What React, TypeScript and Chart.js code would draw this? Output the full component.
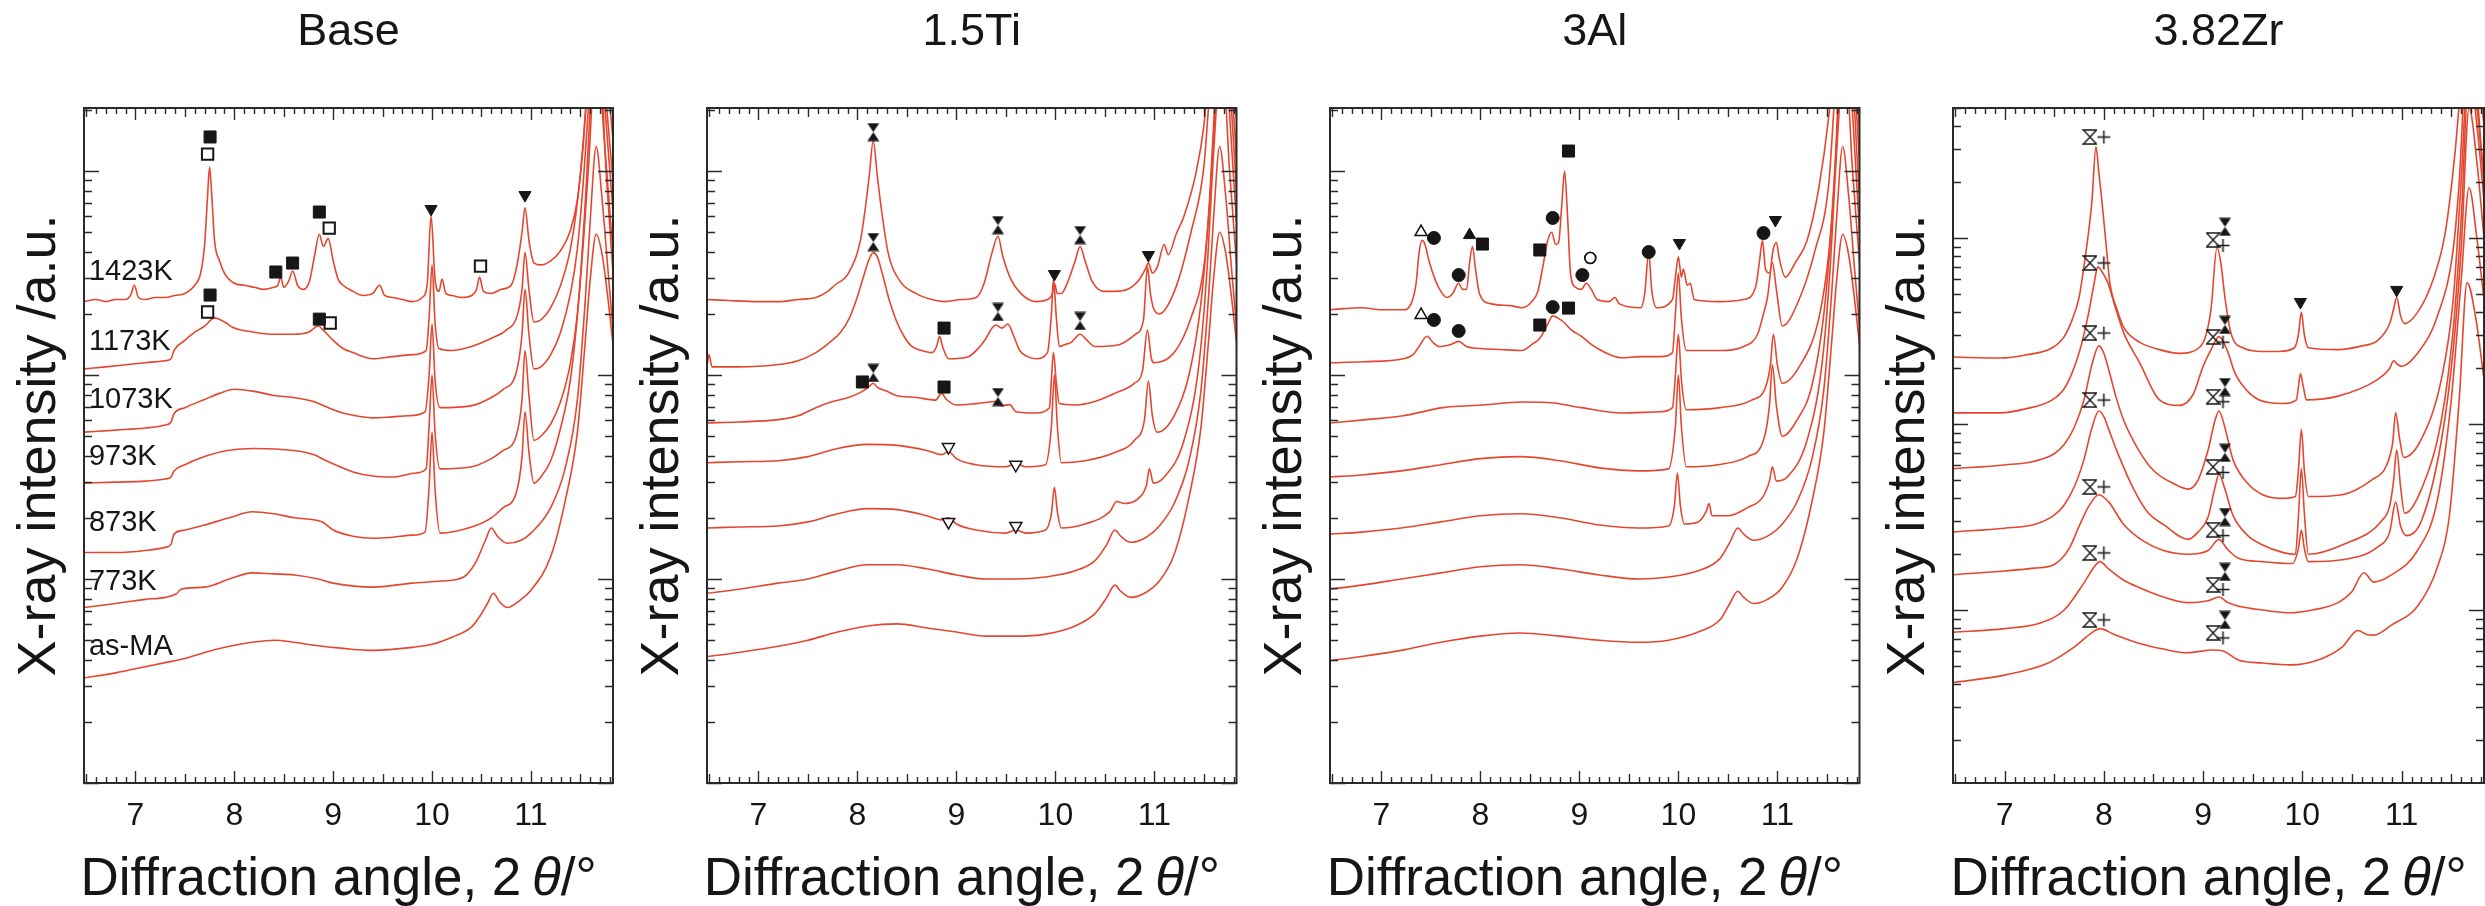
import React, { useEffect, useRef } from "react";
import { Chart, registerables } from "chart.js";

Chart.register(...registerables);

type P = [number, number]; // [2theta (deg), log10 intensity (a.u.)]

const FONT = "'Liberation Sans', Arial, Helvetica, sans-serif";
const CURVE_COLOR = "#e4472f";
const INK = "#161616";

// ---------------- axes ----------------
const X_MIN = 6.48;
const X_MAX = 11.83;
const X_TICKS = [7, 8, 9, 10, 11];
const LOG_RANGE_MAIN: P = [0, 3.309];
const LOG_RANGE_ZR: P = [0.07, 3.699];

const PANEL_TITLES = ["Base", "1.5Ti", "3Al", "3.82Zr"];
const SAMPLE_LABELS = ["1423K", "1173K", "1073K", "973K", "873K", "773K", "as-MA"];
const SAMPLE_LABEL_X = 6.53;
const SAMPLE_LABEL_LOG = [2.505, 2.162, 1.877, 1.598, 1.275, 0.985, 0.667];

// ---------------- Base ----------------
const base1423K: P[] = [[6.48,2.36],[6.6,2.37],[6.7,2.36],[6.8,2.37],[6.9,2.37],[6.95,2.39],[6.99,2.44],[7.03,2.38],[7.1,2.37],[7.2,2.38],[7.3,2.38],[7.4,2.39],[7.5,2.4],[7.6,2.44],[7.66,2.5],[7.7,2.64],[7.73,2.88],[7.75,3.02],[7.77,2.9],[7.8,2.66],[7.85,2.56],[7.9,2.5],[8.0,2.45],[8.1,2.44],[8.2,2.43],[8.3,2.42],[8.4,2.43],[8.44,2.44],[8.47,2.48],[8.5,2.43],[8.55,2.46],[8.59,2.51],[8.64,2.44],[8.7,2.42],[8.76,2.46],[8.81,2.58],[8.86,2.69],[8.9,2.63],[8.95,2.67],[9.0,2.56],[9.05,2.47],[9.1,2.44],[9.2,2.41],[9.3,2.39],[9.4,2.4],[9.47,2.44],[9.52,2.39],[9.6,2.38],[9.7,2.37],[9.8,2.36],[9.9,2.38],[9.95,2.44],[9.99,2.78],[10.03,2.47],[10.07,2.41],[10.1,2.47],[10.14,2.4],[10.2,2.39],[10.3,2.38],[10.4,2.39],[10.45,2.42],[10.48,2.48],[10.52,2.41],[10.6,2.4],[10.7,2.42],[10.8,2.44],[10.86,2.54],[10.91,2.7],[10.94,2.82],[10.98,2.66],[11.03,2.55],[11.1,2.54],[11.2,2.56],[11.3,2.61],[11.4,2.71],[11.47,2.86],[11.52,3.08],[11.57,3.4],[11.64,3.9],[11.7,4.0],[11.76,3.55],[11.83,3.15]];
const base1173K: P[] = [[6.48,2.03],[6.7,2.04],[6.9,2.05],[7.1,2.06],[7.3,2.07],[7.36,2.08],[7.39,2.12],[7.5,2.17],[7.6,2.21],[7.7,2.24],[7.8,2.28],[7.9,2.26],[8.0,2.23],[8.2,2.21],[8.4,2.2],[8.6,2.2],[8.75,2.21],[8.85,2.24],[8.9,2.22],[9.0,2.17],[9.1,2.13],[9.2,2.11],[9.4,2.08],[9.6,2.09],[9.8,2.1],[9.94,2.12],[9.97,2.28],[10.0,2.54],[10.03,2.26],[10.07,2.13],[10.2,2.12],[10.4,2.14],[10.6,2.18],[10.75,2.22],[10.86,2.29],[10.91,2.42],[10.94,2.6],[10.98,2.42],[11.03,2.26],[11.1,2.27],[11.2,2.33],[11.3,2.44],[11.4,2.62],[11.47,2.85],[11.53,3.15],[11.58,3.5],[11.66,3.9],[11.75,3.4],[11.83,2.95]];
const base1073K: P[] = [[6.48,1.72],[6.8,1.73],[7.1,1.74],[7.3,1.755],[7.36,1.77],[7.39,1.81],[7.5,1.84],[7.7,1.88],[7.85,1.91],[8.0,1.93],[8.2,1.92],[8.4,1.9],[8.6,1.89],[8.8,1.87],[9.0,1.83],[9.13,1.81],[9.4,1.79],[9.6,1.795],[9.76,1.8],[9.93,1.82],[9.97,2.0],[10.0,2.25],[10.03,1.98],[10.08,1.84],[10.4,1.85],[10.6,1.89],[10.72,1.93],[10.85,2.01],[10.91,2.2],[10.94,2.42],[10.98,2.2],[11.03,2.03],[11.1,2.04],[11.2,2.1],[11.3,2.21],[11.4,2.4],[11.47,2.62],[11.53,2.95],[11.58,3.3],[11.66,3.8],[11.75,3.3],[11.83,2.8]];
const base973K: P[] = [[6.48,1.47],[6.8,1.475],[7.1,1.48],[7.3,1.49],[7.36,1.5],[7.39,1.53],[7.5,1.56],[7.7,1.6],[7.93,1.63],[8.2,1.64],[8.6,1.63],[8.8,1.61],[8.93,1.58],[9.2,1.525],[9.4,1.505],[9.6,1.5],[9.84,1.52],[9.94,1.54],[9.97,1.75],[10.0,2.0],[10.03,1.72],[10.08,1.54],[10.4,1.55],[10.6,1.59],[10.72,1.63],[10.85,1.7],[10.91,1.88],[10.94,2.12],[10.98,1.9],[11.03,1.68],[11.1,1.7],[11.2,1.76],[11.3,1.87],[11.4,2.06],[11.47,2.3],[11.53,2.65],[11.58,3.0],[11.66,3.6],[11.75,3.1],[11.83,2.6]];
const base873K: P[] = [[6.48,1.13],[6.8,1.13],[7.1,1.14],[7.3,1.155],[7.36,1.17],[7.39,1.22],[7.5,1.24],[7.7,1.265],[7.95,1.3],[8.18,1.33],[8.4,1.32],[8.61,1.3],[8.89,1.28],[9.0,1.24],[9.2,1.21],[9.4,1.2],[9.6,1.205],[9.8,1.215],[9.93,1.23],[9.97,1.45],[10.0,1.72],[10.03,1.44],[10.08,1.225],[10.4,1.255],[10.6,1.3],[10.72,1.35],[10.85,1.42],[10.91,1.6],[10.94,1.82],[10.98,1.62],[11.03,1.47],[11.1,1.5],[11.2,1.58],[11.3,1.74],[11.4,1.98],[11.48,2.35],[11.55,2.85],[11.6,3.3],[11.68,3.7],[11.76,3.0],[11.83,2.5]];
const base773K: P[] = [[6.48,0.86],[6.8,0.88],[7.1,0.9],[7.3,0.91],[7.42,0.93],[7.46,0.95],[7.7,0.96],[7.95,1.0],[8.18,1.03],[8.4,1.025],[8.61,1.02],[8.85,1.0],[9.0,0.98],[9.4,0.96],[9.8,0.98],[10.1,0.99],[10.32,1.01],[10.44,1.08],[10.54,1.19],[10.6,1.25],[10.66,1.21],[10.76,1.175],[10.9,1.19],[11.0,1.225],[11.2,1.35],[11.35,1.55],[11.47,1.88],[11.55,2.37],[11.6,2.76],[11.66,3.12],[11.72,2.86],[11.78,2.51],[11.83,2.22]];
const baseAsMA: P[] = [[6.48,0.515],[6.8,0.54],[7.1,0.57],[7.3,0.59],[7.5,0.61],[7.7,0.64],[7.95,0.67],[8.18,0.69],[8.41,0.7],[8.6,0.69],[8.81,0.675],[9.1,0.66],[9.4,0.65],[9.8,0.665],[10.0,0.68],[10.2,0.715],[10.4,0.765],[10.5,0.83],[10.56,0.88],[10.62,0.93],[10.68,0.89],[10.76,0.86],[10.9,0.9],[11.0,0.945],[11.2,1.11],[11.35,1.39],[11.47,1.72],[11.55,2.17],[11.6,2.47],[11.66,2.69],[11.72,2.59],[11.78,2.37],[11.83,2.15]];

const baseFilledSquare: P[] = [[7.755,3.167],[8.42,2.505],[8.59,2.549],[8.86,2.799],[7.755,2.392],[8.86,2.274]];
const baseOpenSquare: P[] = [[7.73,3.083],[8.96,2.72],[10.49,2.534],[7.73,2.309],[8.97,2.255]];
const baseDownTri: P[] = [[9.99,2.814],[10.94,2.882]];

// ---------------- 1.5Ti ----------------
const ti1423K: P[] = [[6.48,2.37],[6.7,2.365],[7.0,2.36],[7.2,2.36],[7.4,2.37],[7.58,2.38],[7.7,2.41],[7.77,2.44],[7.91,2.5],[8.03,2.66],[8.08,2.82],[8.12,2.98],[8.16,3.15],[8.2,2.98],[8.24,2.82],[8.31,2.6],[8.43,2.46],[8.59,2.4],[8.75,2.37],[8.88,2.36],[9.05,2.37],[9.2,2.38],[9.28,2.45],[9.36,2.6],[9.42,2.68],[9.47,2.58],[9.55,2.47],[9.65,2.4],[9.8,2.36],[9.92,2.37],[9.97,2.4],[9.99,2.45],[10.02,2.4],[10.06,2.4],[10.12,2.45],[10.2,2.56],[10.25,2.63],[10.3,2.56],[10.37,2.46],[10.49,2.41],[10.6,2.41],[10.73,2.42],[10.85,2.47],[10.91,2.52],[10.94,2.55],[10.98,2.5],[11.03,2.53],[11.1,2.64],[11.14,2.59],[11.22,2.69],[11.3,2.78],[11.42,2.99],[11.5,3.22],[11.56,3.55],[11.64,3.95],[11.72,4.0],[11.78,3.6],[11.83,3.25]];
const ti1173K: P[] = [[6.48,2.04],[6.5,2.1],[6.53,2.04],[6.78,2.04],[7.18,2.05],[7.4,2.07],[7.58,2.11],[7.72,2.16],[7.83,2.21],[7.92,2.28],[7.99,2.37],[8.06,2.48],[8.12,2.57],[8.16,2.6],[8.2,2.58],[8.25,2.5],[8.32,2.37],[8.39,2.27],[8.47,2.19],[8.55,2.14],[8.65,2.12],[8.75,2.11],[8.8,2.14],[8.83,2.19],[8.86,2.14],[8.92,2.08],[9.12,2.09],[9.22,2.13],[9.3,2.18],[9.36,2.23],[9.4,2.245],[9.46,2.23],[9.52,2.25],[9.58,2.19],[9.64,2.12],[9.72,2.09],[9.8,2.08],[9.92,2.11],[9.96,2.3],[9.98,2.47],[10.01,2.28],[10.04,2.14],[10.1,2.15],[10.16,2.16],[10.25,2.2],[10.32,2.17],[10.4,2.14],[10.65,2.15],[10.81,2.2],[10.89,2.27],[10.93,2.53],[10.96,2.4],[10.99,2.33],[11.05,2.3],[11.21,2.42],[11.37,2.7],[11.5,3.02],[11.56,3.4],[11.64,3.9],[11.72,3.9],[11.78,3.45],[11.83,3.05]];
const ti1073K: P[] = [[6.48,1.765],[6.8,1.77],[7.18,1.78],[7.4,1.8],[7.58,1.84],[7.75,1.87],[7.91,1.89],[8.05,1.92],[8.12,1.945],[8.16,1.96],[8.2,1.94],[8.3,1.92],[8.39,1.9],[8.6,1.89],[8.79,1.877],[8.85,1.91],[8.9,1.88],[9.0,1.853],[9.2,1.86],[9.4,1.87],[9.46,1.85],[9.54,1.855],[9.6,1.82],[9.8,1.814],[9.94,1.84],[9.96,1.98],[9.98,2.11],[10.01,1.96],[10.04,1.86],[10.2,1.853],[10.4,1.87],[10.6,1.91],[10.8,1.96],[10.88,2.02],[10.93,2.22],[10.97,2.08],[11.0,2.06],[11.2,2.11],[11.37,2.28],[11.5,2.53],[11.56,2.85],[11.64,3.5],[11.72,3.8],[11.78,3.3],[11.83,2.9]];
const ti973K: P[] = [[6.48,1.57],[6.8,1.575],[7.2,1.58],[7.5,1.6],[7.8,1.64],[8.1,1.66],[8.4,1.655],[8.7,1.63],[8.85,1.61],[8.92,1.625],[9.0,1.59],[9.2,1.56],[9.5,1.55],[9.6,1.565],[9.7,1.55],[9.9,1.56],[9.96,1.75],[9.99,2.0],[10.02,1.75],[10.06,1.57],[10.3,1.58],[10.6,1.62],[10.8,1.68],[10.9,1.78],[10.94,1.97],[10.98,1.8],[11.03,1.72],[11.2,1.8],[11.35,2.0],[11.47,2.35],[11.55,2.8],[11.62,3.4],[11.7,3.8],[11.77,3.2],[11.83,2.75]];
const ti873K: P[] = [[6.48,1.25],[6.8,1.255],[7.2,1.26],[7.5,1.28],[7.8,1.32],[8.1,1.345],[8.4,1.34],[8.7,1.31],[8.85,1.29],[8.92,1.3],[9.0,1.27],[9.2,1.24],[9.5,1.225],[9.6,1.24],[9.7,1.225],[9.9,1.24],[9.96,1.32],[9.99,1.45],[10.02,1.33],[10.06,1.25],[10.3,1.27],[10.55,1.33],[10.62,1.38],[10.7,1.37],[10.85,1.4],[10.92,1.46],[10.95,1.54],[10.99,1.47],[11.1,1.5],[11.3,1.68],[11.45,2.05],[11.53,2.5],[11.6,3.1],[11.68,3.6],[11.76,3.0],[11.83,2.55]];
const ti773K: P[] = [[6.48,0.93],[6.8,0.95],[7.2,0.98],[7.5,1.0],[7.8,1.04],[8.1,1.07],[8.4,1.07],[8.7,1.05],[9.0,1.02],[9.3,1.0],[9.6,1.0],[9.9,1.01],[10.2,1.04],[10.4,1.09],[10.52,1.17],[10.6,1.24],[10.66,1.21],[10.76,1.18],[10.9,1.2],[11.05,1.26],[11.2,1.37],[11.35,1.58],[11.47,1.92],[11.55,2.4],[11.6,2.78],[11.66,3.12],[11.72,2.88],[11.78,2.52],[11.83,2.24]];
const tiAsMA: P[] = [[6.48,0.62],[6.8,0.64],[7.2,0.67],[7.5,0.7],[7.8,0.74],[8.1,0.77],[8.4,0.78],[8.7,0.76],[9.0,0.74],[9.3,0.72],[9.6,0.72],[9.9,0.73],[10.2,0.77],[10.4,0.83],[10.52,0.91],[10.6,0.97],[10.66,0.94],[10.76,0.91],[10.9,0.93],[11.05,0.99],[11.2,1.12],[11.35,1.4],[11.47,1.74],[11.55,2.18],[11.6,2.48],[11.66,2.7],[11.72,2.6],[11.78,2.38],[11.83,2.16]];

const tiHourglass: P[] = [[8.16,3.191],[8.16,2.652],[9.42,2.735],[10.25,2.686],[9.42,2.309],[10.25,2.265],[8.16,2.01],[9.42,1.892]];
const tiFilledSquare: P[] = [[8.875,2.23],[8.05,1.966],[8.875,1.941]];
const tiDownTri: P[] = [[9.99,2.495],[10.94,2.588]];
const tiOpenDownTri: P[] = [[8.92,1.647],[9.6,1.56],[8.92,1.28],[9.6,1.26]];

// ---------------- 3Al ----------------
const al1423K: P[] = [[6.48,2.32],[6.8,2.33],[7.0,2.32],[7.22,2.32],[7.3,2.35],[7.35,2.45],[7.38,2.6],[7.41,2.66],[7.44,2.64],[7.48,2.56],[7.54,2.47],[7.6,2.41],[7.66,2.38],[7.72,2.4],[7.78,2.45],[7.82,2.42],[7.86,2.42],[7.89,2.55],[7.92,2.63],[7.95,2.52],[7.99,2.4],[8.1,2.35],[8.3,2.34],[8.42,2.33],[8.52,2.36],[8.58,2.41],[8.63,2.53],[8.68,2.66],[8.72,2.7],[8.76,2.64],[8.79,2.65],[8.82,2.82],[8.85,3.0],[8.88,2.78],[8.91,2.5],[8.96,2.43],[9.02,2.42],[9.07,2.45],[9.12,2.42],[9.18,2.37],[9.3,2.36],[9.36,2.38],[9.4,2.35],[9.62,2.33],[9.66,2.4],[9.7,2.6],[9.73,2.42],[9.78,2.33],[9.94,2.37],[9.97,2.48],[10.0,2.58],[10.03,2.48],[10.05,2.52],[10.09,2.44],[10.12,2.45],[10.16,2.37],[10.42,2.36],[10.66,2.37],[10.78,2.43],[10.82,2.56],[10.85,2.66],[10.88,2.52],[10.92,2.5],[10.96,2.62],[10.99,2.65],[11.02,2.57],[11.08,2.48],[11.18,2.55],[11.3,2.66],[11.42,2.92],[11.52,3.27],[11.58,3.6],[11.65,4.0],[11.72,4.0],[11.78,3.6],[11.83,3.2]];
const al1173K: P[] = [[6.48,2.06],[6.82,2.065],[7.22,2.08],[7.32,2.1],[7.38,2.14],[7.46,2.19],[7.52,2.16],[7.58,2.14],[7.7,2.15],[7.78,2.165],[7.86,2.14],[8.0,2.13],[8.2,2.125],[8.42,2.12],[8.52,2.15],[8.6,2.18],[8.68,2.25],[8.73,2.29],[8.78,2.28],[8.84,2.26],[8.92,2.22],[9.02,2.19],[9.12,2.15],[9.22,2.12],[9.42,2.085],[9.62,2.09],[9.82,2.09],[9.94,2.11],[9.97,2.3],[10.0,2.5],[10.03,2.28],[10.08,2.12],[10.42,2.12],[10.66,2.14],[10.8,2.2],[10.86,2.3],[10.9,2.38],[10.95,2.55],[10.99,2.42],[11.05,2.24],[11.22,2.37],[11.38,2.61],[11.52,2.94],[11.57,3.3],[11.64,3.9],[11.72,3.95],[11.78,3.45],[11.83,3.05]];
const al1073K: P[] = [[6.48,1.765],[6.82,1.78],[7.22,1.8],[7.62,1.84],[8.02,1.853],[8.42,1.868],[8.74,1.863],[9.02,1.84],[9.42,1.814],[9.82,1.82],[9.94,1.84],[9.97,2.0],[10.0,2.2],[10.03,1.98],[10.08,1.83],[10.42,1.84],[10.74,1.877],[10.88,1.94],[10.93,2.05],[10.96,2.2],[11.0,2.05],[11.05,1.96],[11.22,2.04],[11.42,2.28],[11.52,2.6],[11.58,3.0],[11.65,3.7],[11.72,3.8],[11.78,3.3],[11.83,2.85]];
const al973K: P[] = [[6.48,1.5],[6.8,1.51],[7.2,1.53],[7.6,1.56],[8.0,1.59],[8.4,1.6],[8.8,1.58],[9.2,1.545],[9.6,1.53],[9.9,1.54],[9.97,1.75],[10.0,2.0],[10.03,1.75],[10.08,1.55],[10.4,1.56],[10.7,1.6],[10.86,1.68],[10.92,1.85],[10.95,2.05],[10.99,1.85],[11.05,1.7],[11.2,1.78],[11.35,1.95],[11.47,2.3],[11.55,2.75],[11.62,3.3],[11.7,3.7],[11.77,3.2],[11.83,2.7]];
const al873K: P[] = [[6.48,1.22],[6.8,1.23],[7.2,1.25],[7.6,1.28],[8.0,1.31],[8.4,1.32],[8.8,1.3],[9.2,1.265],[9.6,1.25],[9.9,1.26],[9.96,1.36],[9.99,1.52],[10.02,1.36],[10.06,1.27],[10.2,1.28],[10.28,1.33],[10.31,1.37],[10.34,1.31],[10.5,1.31],[10.7,1.35],[10.85,1.4],[10.92,1.48],[10.95,1.55],[10.99,1.48],[11.1,1.5],[11.3,1.68],[11.45,2.05],[11.53,2.5],[11.6,3.1],[11.68,3.6],[11.76,3.0],[11.83,2.55]];
const al773K: P[] = [[6.48,0.95],[6.8,0.97],[7.2,1.0],[7.6,1.03],[8.0,1.06],[8.4,1.07],[8.8,1.05],[9.2,1.02],[9.6,1.0],[9.9,1.01],[10.2,1.04],[10.42,1.1],[10.52,1.18],[10.6,1.25],[10.66,1.22],[10.76,1.19],[10.9,1.21],[11.05,1.27],[11.2,1.38],[11.35,1.59],[11.47,1.93],[11.55,2.41],[11.6,2.78],[11.66,3.12],[11.72,2.88],[11.78,2.52],[11.83,2.24]];
const alAsMA: P[] = [[6.48,0.6],[6.8,0.62],[7.2,0.65],[7.6,0.69],[8.0,0.72],[8.4,0.735],[8.8,0.72],[9.2,0.7],[9.6,0.69],[9.9,0.7],[10.2,0.74],[10.42,0.8],[10.52,0.88],[10.6,0.94],[10.66,0.91],[10.76,0.88],[10.9,0.9],[11.05,0.96],[11.2,1.1],[11.35,1.38],[11.47,1.72],[11.55,2.17],[11.6,2.47],[11.66,2.69],[11.72,2.59],[11.78,2.37],[11.83,2.15]];

const alOpenUpTri: P[] = [[7.4,2.701],[7.4,2.294]];
const alFilledCircle: P[] = [[7.53,2.672],[7.78,2.49],[8.73,2.77],[9.03,2.49],[9.7,2.603],[10.86,2.696],[7.53,2.27],[7.78,2.216],[8.73,2.333]];
const alFilledUpTri: P[] = [[7.89,2.686]];
const alFilledSquare: P[] = [[8.02,2.642],[8.6,2.613],[8.89,3.098],[8.6,2.245],[8.89,2.328]];
const alOpenCircle: P[] = [[9.11,2.574]];
const alDownTri: P[] = [[10.01,2.647],[10.98,2.76]];

// ---------------- 3.82Zr ----------------
const zr1423K: P[] = [[6.48,2.36],[6.96,2.355],[7.2,2.37],[7.48,2.41],[7.6,2.47],[7.68,2.56],[7.75,2.68],[7.8,2.85],[7.85,3.05],[7.88,3.2],[7.92,3.49],[7.95,3.35],[7.98,3.2],[8.02,2.98],[8.06,2.76],[8.13,2.62],[8.2,2.52],[8.36,2.44],[8.56,2.4],[8.76,2.38],[8.96,2.41],[9.03,2.48],[9.08,2.62],[9.14,2.95],[9.18,2.86],[9.22,2.68],[9.28,2.49],[9.4,2.41],[9.6,2.39],[9.76,2.39],[9.92,2.41],[9.96,2.48],[9.99,2.6],[10.02,2.48],[10.06,2.41],[10.36,2.4],[10.6,2.42],[10.76,2.45],[10.88,2.54],[10.92,2.62],[10.95,2.68],[10.99,2.58],[11.03,2.54],[11.16,2.6],[11.32,2.78],[11.44,3.03],[11.54,3.47],[11.6,3.85],[11.68,4.3],[11.76,4.0],[11.83,3.6]];
const zr1173K: P[] = [[6.48,2.06],[6.96,2.06],[7.2,2.08],[7.48,2.13],[7.6,2.19],[7.68,2.275],[7.76,2.4],[7.84,2.58],[7.9,2.75],[7.94,2.845],[7.98,2.82],[8.04,2.76],[8.12,2.62],[8.2,2.49],[8.36,2.33],[8.56,2.13],[8.76,2.1],[8.9,2.16],[9.0,2.31],[9.08,2.4],[9.16,2.47],[9.24,2.4],[9.32,2.275],[9.44,2.18],[9.56,2.13],[9.8,2.11],[9.94,2.13],[9.96,2.2],[9.98,2.27],[10.01,2.2],[10.04,2.13],[10.36,2.15],[10.76,2.24],[10.88,2.3],[10.92,2.34],[10.96,2.32],[11.0,2.31],[11.16,2.38],[11.36,2.58],[11.52,2.94],[11.58,3.3],[11.66,4.0],[11.74,3.9],[11.8,3.5],[11.83,3.3]];
const zr1073K: P[] = [[6.48,1.76],[7.0,1.78],[7.3,1.8],[7.5,1.84],[7.6,1.89],[7.7,1.98],[7.8,2.13],[7.88,2.32],[7.95,2.42],[8.0,2.38],[8.05,2.29],[8.12,2.15],[8.2,2.02],[8.35,1.86],[8.5,1.75],[8.7,1.68],[8.85,1.65],[8.95,1.7],[9.05,1.86],[9.12,2.02],[9.16,2.07],[9.22,1.98],[9.3,1.81],[9.45,1.68],[9.6,1.62],[9.8,1.6],[9.93,1.61],[9.96,1.75],[9.99,1.97],[10.02,1.75],[10.06,1.61],[10.4,1.62],[10.7,1.7],[10.85,1.78],[10.91,1.9],[10.94,2.06],[10.98,1.92],[11.02,1.82],[11.2,1.92],[11.4,2.24],[11.52,2.67],[11.6,3.31],[11.68,4.0],[11.76,3.7],[11.83,3.3]];
const zr973K: P[] = [[6.48,1.42],[7.0,1.44],[7.3,1.46],[7.5,1.51],[7.6,1.565],[7.7,1.66],[7.8,1.81],[7.88,1.98],[7.95,2.07],[8.0,2.04],[8.05,1.97],[8.15,1.83],[8.3,1.65],[8.45,1.52],[8.6,1.46],[8.85,1.38],[8.95,1.42],[9.05,1.5],[9.12,1.66],[9.16,1.73],[9.22,1.65],[9.3,1.51],[9.45,1.4],[9.6,1.35],[9.8,1.31],[9.93,1.3],[9.96,1.5],[9.99,1.76],[10.02,1.52],[10.06,1.3],[10.4,1.35],[10.8,1.48],[10.88,1.56],[10.92,1.7],[10.95,1.86],[10.99,1.66],[11.03,1.52],[11.2,1.65],[11.4,2.02],[11.52,2.51],[11.6,3.1],[11.68,3.9],[11.76,3.6],[11.83,3.2]];
const zr873K: P[] = [[6.48,1.19],[7.0,1.21],[7.3,1.225],[7.5,1.245],[7.65,1.33],[7.75,1.45],[7.85,1.56],[7.95,1.62],[8.05,1.58],[8.2,1.46],[8.4,1.37],[8.6,1.32],[8.85,1.3],[9.05,1.32],[9.16,1.38],[9.24,1.33],[9.35,1.28],[9.6,1.26],[9.9,1.25],[9.96,1.33],[9.99,1.43],[10.02,1.33],[10.06,1.26],[10.4,1.27],[10.76,1.34],[10.88,1.42],[10.94,1.58],[10.99,1.45],[11.05,1.4],[11.2,1.48],[11.4,1.91],[11.52,2.4],[11.6,2.94],[11.68,3.7],[11.76,3.4],[11.83,3.0]];
const zr773K: P[] = [[6.48,0.88],[7.0,0.9],[7.36,0.93],[7.6,1.0],[7.8,1.146],[7.9,1.23],[7.96,1.26],[8.05,1.22],[8.2,1.16],[8.36,1.12],[8.6,1.07],[8.84,1.04],[9.05,1.05],[9.16,1.07],[9.25,1.04],[9.36,1.02],[9.6,1.0],[9.88,0.985],[10.1,1.0],[10.36,1.04],[10.5,1.1],[10.62,1.2],[10.72,1.15],[10.9,1.19],[11.16,1.32],[11.36,1.59],[11.5,2.13],[11.6,2.77],[11.68,3.27],[11.76,2.99],[11.83,2.67]];
const zrAsMA: P[] = [[6.48,0.61],[7.0,0.65],[7.44,0.715],[7.7,0.8],[7.86,0.87],[7.96,0.9],[8.1,0.87],[8.36,0.82],[8.6,0.79],[8.84,0.77],[9.1,0.785],[9.2,0.78],[9.36,0.73],[9.6,0.715],[9.88,0.705],[10.2,0.74],[10.4,0.8],[10.56,0.89],[10.64,0.87],[10.72,0.865],[10.9,0.92],[11.16,1.02],[11.36,1.23],[11.48,1.5],[11.58,2.13],[11.66,2.76],[11.75,2.56],[11.83,2.24]];

const zrOpenHourglass: P[] = [[7.86,3.543],[7.86,2.866],[7.86,2.489],[7.86,2.129],[7.86,1.662],[7.86,1.307],[7.86,0.947],[9.1,2.99],[9.1,2.468],[9.1,2.146],[9.1,1.769],[9.1,1.431],[9.1,1.135],[9.1,0.877]];
const zrPlus: P[] = [[8.0,3.543],[8.0,2.866],[8.0,2.489],[8.0,2.129],[8.0,1.662],[8.0,1.307],[8.0,0.947],[9.2,2.96],[9.2,2.44],[9.2,2.12],[9.2,1.74],[9.2,1.4],[9.2,1.11],[9.2,0.85]];
const zrFilledHourglass: P[] = [[9.22,3.06],[9.22,2.533],[9.22,2.199],[9.22,1.845],[9.22,1.5],[9.22,1.205],[9.22,0.947]];
const zrDownTri: P[] = [[9.98,2.656],[10.95,2.721]];

type MarkerKind = "square" | "squareOpen" | "triDown" | "triDownOpen" | "triUp" | "triUpOpen" | "circle" | "circleOpen" | "hgFill" | "hgOpen" | "plus";

interface PanelDef {
  title: string;
  logRange: P;
  curves: P[][];
  markers: { pts: P[]; kind: MarkerKind }[];
  sampleLabels: boolean;
}

const PANELS: PanelDef[] = [
  {
    title: PANEL_TITLES[0], logRange: LOG_RANGE_MAIN, sampleLabels: true,
    curves: [base1423K, base1173K, base1073K, base973K, base873K, base773K, baseAsMA],
    markers: [
      { pts: baseFilledSquare, kind: "square" },
      { pts: baseOpenSquare, kind: "squareOpen" },
      { pts: baseDownTri, kind: "triDown" },
    ],
  },
  {
    title: PANEL_TITLES[1], logRange: LOG_RANGE_MAIN, sampleLabels: false,
    curves: [ti1423K, ti1173K, ti1073K, ti973K, ti873K, ti773K, tiAsMA],
    markers: [
      { pts: tiHourglass, kind: "hgFill" },
      { pts: tiFilledSquare, kind: "square" },
      { pts: tiDownTri, kind: "triDown" },
      { pts: tiOpenDownTri, kind: "triDownOpen" },
    ],
  },
  {
    title: PANEL_TITLES[2], logRange: LOG_RANGE_MAIN, sampleLabels: false,
    curves: [al1423K, al1173K, al1073K, al973K, al873K, al773K, alAsMA],
    markers: [
      { pts: alOpenUpTri, kind: "triUpOpen" },
      { pts: alFilledCircle, kind: "circle" },
      { pts: alFilledUpTri, kind: "triUp" },
      { pts: alFilledSquare, kind: "square" },
      { pts: alOpenCircle, kind: "circleOpen" },
      { pts: alDownTri, kind: "triDown" },
    ],
  },
  {
    title: PANEL_TITLES[3], logRange: LOG_RANGE_ZR, sampleLabels: false,
    curves: [zr1423K, zr1173K, zr1073K, zr973K, zr873K, zr773K, zrAsMA],
    markers: [
      { pts: zrOpenHourglass, kind: "hgOpen" },
      { pts: zrPlus, kind: "plus" },
      { pts: zrFilledHourglass, kind: "hgFill" },
      { pts: zrDownTri, kind: "triDown" },
    ],
  },
];

// ---------------- layout constants ----------------
const CANVAS_W = 623;
const CANVAS_H = 906;
const PLOT_LEFT = 84;
const PLOT_BOTTOM_SPACE = 123;

function glyph(kind: "hgFill" | "hgOpen" | "plus"): HTMLCanvasElement {
  const c = document.createElement("canvas");
  const g = c.getContext("2d") as CanvasRenderingContext2D;
  if (kind === "hgFill") {
    c.width = 13; c.height = 19;
    g.fillStyle = INK;
    g.beginPath(); g.moveTo(0.5, 0.5); g.lineTo(12.5, 0.5); g.lineTo(6.5, 9.5); g.closePath(); g.fill();
    g.beginPath(); g.moveTo(6.5, 9.5); g.lineTo(12.5, 18.5); g.lineTo(0.5, 18.5); g.closePath(); g.fill();
  } else if (kind === "hgOpen") {
    c.width = 15; c.height = 16;
    g.strokeStyle = INK; g.lineWidth = 1.4;
    g.beginPath(); g.moveTo(1, 1); g.lineTo(14, 1); g.lineTo(7.5, 8); g.closePath();
    g.moveTo(7.5, 8); g.lineTo(14, 15); g.lineTo(1, 15); g.closePath(); g.stroke();
  } else {
    c.width = 15; c.height = 15;
    g.strokeStyle = INK; g.lineWidth = 1.5;
    g.beginPath(); g.moveTo(7.5, 1); g.lineTo(7.5, 14); g.moveTo(1, 7.5); g.lineTo(14, 7.5); g.stroke();
  }
  return c;
}

function markerDataset(pts: P[], kind: MarkerKind) {
  const data = pts.map(([x, l]) => ({ x, y: Math.pow(10, l) }));
  const base: any = {
    data, showLine: false, order: 0,
    pointBackgroundColor: INK, pointBorderColor: INK, pointBorderWidth: 1,
    pointRadius: 6, pointHoverRadius: 6, pointRotation: 0,
  };
  switch (kind) {
    case "square": return { ...base, pointStyle: "rect", pointRadius: 8.5 };
    case "squareOpen": return { ...base, pointStyle: "rect", pointRadius: 8, pointBackgroundColor: "#fff", pointBorderWidth: 2 };
    case "triDown": return { ...base, pointStyle: "triangle", pointRadius: 7, pointRotation: 180 };
    case "triDownOpen": return { ...base, pointStyle: "triangle", pointRadius: 7, pointRotation: 180, pointBackgroundColor: "#fff", pointBorderWidth: 1.5 };
    case "triUp": return { ...base, pointStyle: "triangle", pointRadius: 7 };
    case "triUpOpen": return { ...base, pointStyle: "triangle", pointRadius: 7, pointBackgroundColor: "#fff", pointBorderWidth: 1.5 };
    case "circle": return { ...base, pointStyle: "circle", pointRadius: 6.5 };
    case "circleOpen": return { ...base, pointStyle: "circle", pointRadius: 5.5, pointBackgroundColor: "#fff", pointBorderWidth: 1.8 };
    default: return { ...base, pointStyle: glyph(kind) };
  }
}

const decoPlugin = {
  id: "deco",
  afterDatasetsDraw(chart: any, _args: any, opts: any) {
    const { ctx, chartArea: a, scales } = chart;
    const xs = scales.x;
    const ys = scales.y;
    ctx.save();
    // sample labels
    if (opts.sampleLabels) {
      ctx.fillStyle = INK;
      ctx.font = `29px ${FONT}`;
      ctx.textAlign = "left";
      ctx.textBaseline = "middle";
      SAMPLE_LABELS.forEach((t, i) => {
        ctx.fillText(t, xs.getPixelForValue(SAMPLE_LABEL_X), ys.getPixelForValue(Math.pow(10, SAMPLE_LABEL_LOG[i])));
      });
    }
    // frame
    ctx.strokeStyle = "#2a2a2a";
    ctx.lineWidth = 2;
    ctx.strokeRect(a.left, a.top, a.right - a.left, a.bottom - a.top);
    ctx.lineWidth = 1.4;
    ctx.beginPath();
    // x ticks (0.1 minor, 0.5 medium, 1 major), inward on bottom and top
    for (let i = Math.ceil(X_MIN * 10); i <= Math.floor(X_MAX * 10); i++) {
      const px = Math.round(xs.getPixelForValue(i / 10)) + 0.5;
      const len = i % 10 === 0 ? 12 : i % 5 === 0 ? 9 : 6;
      ctx.moveTo(px, a.bottom); ctx.lineTo(px, a.bottom - len);
      ctx.moveTo(px, a.top); ctx.lineTo(px, a.top + len);
    }
    // log y ticks, inward on left and right
    for (let e = -1; e <= 4; e++) {
      for (let k = 1; k <= 9; k++) {
        const v = k * Math.pow(10, e);
        if (v < ys.min * 0.999 || v > ys.max * 1.001) continue;
        const py = Math.round(ys.getPixelForValue(v)) + 0.5;
        const len = k === 1 ? 15 : 8;
        ctx.moveTo(a.left, py); ctx.lineTo(a.left + len, py);
        ctx.moveTo(a.right, py); ctx.lineTo(a.right - len, py);
      }
    }
    ctx.stroke();
    // x-axis title with italic theta
    const parts = [
      { t: "Diffraction angle, 2", f: `53px ${FONT}` },
      { t: "\u2009\u03B8", f: `italic 53px ${FONT}` },
      { t: "/\u00B0", f: `53px ${FONT}` },
    ];
    let total = 0;
    const widths = parts.map((p) => { ctx.font = p.f; const w = ctx.measureText(p.t).width; total += w; return w; });
    let x = (a.left + a.right) / 2 - 10 - total / 2;
    ctx.fillStyle = INK;
    ctx.textAlign = "left";
    ctx.textBaseline = "alphabetic";
    parts.forEach((p, i) => { ctx.font = p.f; ctx.fillText(p.t, x, 895); x += widths[i]; });
    ctx.restore();
  },
};

function Panel({ def, left }: { def: PanelDef; left: number }) {
  const ref = useRef<HTMLCanvasElement | null>(null);
  useEffect(() => {
    if (!ref.current) return;
    const curveSets = def.curves.map((c) => ({
      data: c.map(([x, l]) => ({ x, y: Math.pow(10, l) })),
      showLine: true, pointRadius: 0, pointHoverRadius: 0,
      borderColor: CURVE_COLOR, borderWidth: 1.6,
      cubicInterpolationMode: "monotone", order: 1,
    }));
    const markerSets = def.markers.map((m) => markerDataset(m.pts, m.kind));
    const chart = new Chart(ref.current, {
      type: "scatter",
      data: { datasets: [...markerSets, ...curveSets] as any },
      options: {
        animation: false, responsive: false, maintainAspectRatio: false,
        devicePixelRatio: 1, events: [],
        layout: { padding: { left: 0, right: 6, top: 0, bottom: 0 } },
        plugins: {
          legend: { display: false },
          tooltip: { enabled: false },
          title: {
            display: true, text: def.title, color: INK, fullSize: false,
            font: { family: FONT, size: 45, weight: "normal" as any },
            padding: { top: 6, bottom: 48 },
          },
          deco: { sampleLabels: def.sampleLabels },
        } as any,
        scales: {
          x: {
            type: "linear", min: X_MIN, max: X_MAX,
            afterBuildTicks: (s: any) => { s.ticks = X_TICKS.map((v) => ({ value: v })); },
            afterFit: (s: any) => { s.height = PLOT_BOTTOM_SPACE; },
            ticks: { color: INK, font: { family: FONT, size: 32 }, padding: 14, maxRotation: 0, autoSkip: false, callback: (v: any) => String(v) },
            grid: { display: false, drawTicks: false },
            border: { display: false },
          },
          y: {
            type: "logarithmic",
            min: Math.pow(10, def.logRange[0]), max: Math.pow(10, def.logRange[1]),
            afterFit: (s: any) => { s.width = PLOT_LEFT; },
            ticks: { display: false },
            grid: { display: false, drawTicks: false },
            border: { display: false },
            title: {
              display: true, text: "X-ray intensity /a.u.", color: INK,
              font: { family: FONT, size: 54 }, padding: { top: 8, bottom: 0 },
            },
          },
        },
      },
      plugins: [decoPlugin],
    });
    return () => chart.destroy();
  }, [def]);
  return (
    <canvas
      ref={ref}
      width={CANVAS_W}
      height={CANVAS_H}
      style={{ position: "absolute", left, top: 0, width: CANVAS_W, height: CANVAS_H }}
    />
  );
}

export default function App() {
  return (
    <div style={{ position: "fixed", left: 0, top: 0, width: 2485, height: 906, overflow: "hidden", background: "#fff" }}>
      {PANELS.map((p, i) => (
        <Panel key={p.title} def={p} left={i * CANVAS_W} />
      ))}
    </div>
  );
}
